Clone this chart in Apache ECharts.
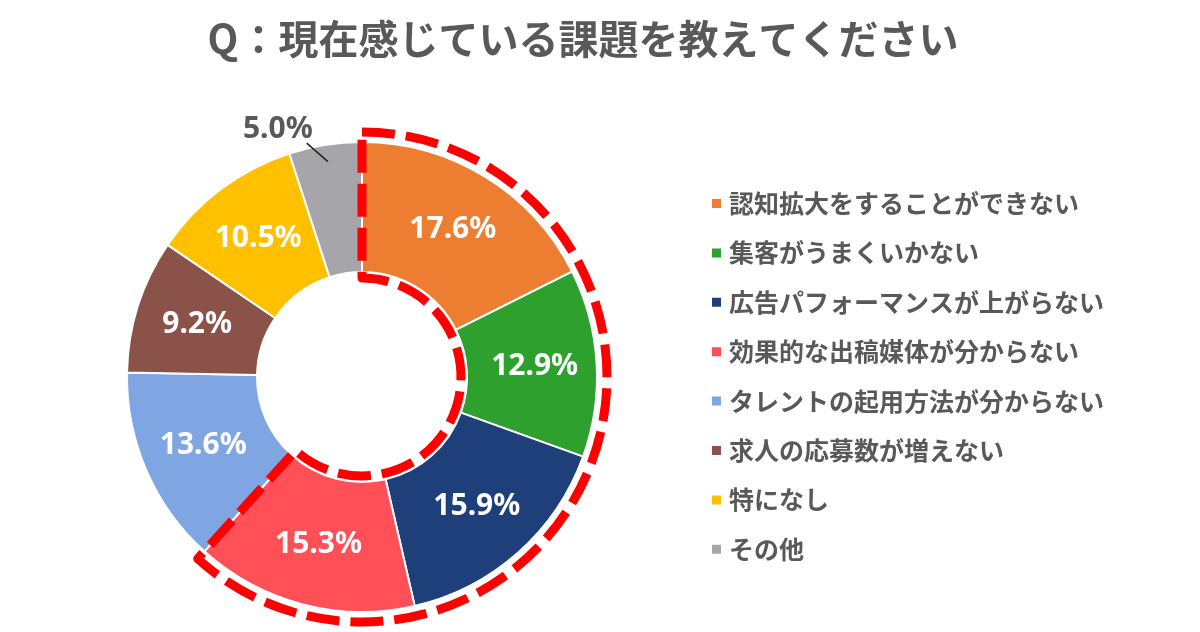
<!DOCTYPE html>
<html>
<head>
<meta charset="utf-8">
<script src="https://cdn.jsdelivr.net/npm/echarts@6/dist/echarts.min.js"></script>
<style>
html,body{margin:0;padding:0;background:#fff;}
#chart{width:1200px;height:632px;}
</style>
</head>
<body>
<div id="chart"></div>
<script>
const titleText = 'Q：現在感じている課題を教えてください';
const categories = [
  '認知拡大をすることができない',
  '集客がうまくいかない',
  '広告パフォーマンスが上がらない',
  '効果的な出稿媒体が分からない',
  'タレントの起用方法が分からない',
  '求人の応募数が増えない',
  '特になし',
  'その他'
];
const values = [17.6, 12.9, 15.9, 15.3, 13.6, 9.2, 10.5, 5.0];
const colors = ['#ED7D31', '#2EA02E', '#1F3F7A', '#FF4F57', '#7FA6E3', '#8B5249', '#FFC000', '#A6A5AA'];
const highlightCount = 4; // slices enclosed by the red dashed outline
const outsideLabelIndex = 7; // その他 label sits outside the ring

const pieCenter = [362, 377];
const pieRadius = [105, 235];
const jpFont = '"Noto Sans CJK JP", "Noto Sans", sans-serif';
const numFont = '"Noto Sans", "Open Sans", sans-serif';
const pctFormatter = p => p.value.toFixed(1) + '%';

// main ring: inside labels for all but the outside one
const pieData = categories.map((name, i) => {
  const item = { name: name, value: values[i] };
  if (i === outsideLabelIndex) item.label = { show: false };
  return item;
});

// overlay ring (transparent) carrying the outside label and its leader line above the slices
const overlayData = categories.map((name, i) => {
  const item = { name: name, value: values[i], label: { show: false }, labelLine: { show: false } };
  if (i === outsideLabelIndex) {
    item.label = { show: true };
    item.labelLine = { show: true };
  }
  return item;
});

const hiSum = values.slice(0, highlightCount).reduce((a, b) => a + b, 0);
const restSum = values.slice(highlightCount).reduce((a, b) => a + b, 0);

const chart = echarts.init(document.getElementById('chart'));
chart.setOption({
  backgroundColor: '#ffffff',
  color: colors,
  animation: false,
  title: {
    text: titleText,
    left: 578,
    textAlign: 'center',
    top: 14,
    textStyle: { fontFamily: jpFont, fontSize: 40, fontWeight: 'bold', color: '#595959' }
  },
  legend: {
    orient: 'vertical',
    left: 705,
    top: 186,
    icon: 'rect',
    itemWidth: 11,
    itemHeight: 11,
    itemGap: 24.4,
    selectedMode: false,
    data: categories,
    textStyle: { fontFamily: jpFont, fontSize: 25, fontWeight: 'bold', color: '#595959', padding: [0, 0, 0, 2] }
  },
  series: [
    {
      type: 'pie',
      center: pieCenter,
      radius: pieRadius,
      startAngle: 90,
      clockwise: true,
      avoidLabelOverlap: false,
      silent: true,
      itemStyle: { borderColor: '#ffffff', borderWidth: 2 },
      label: {
        show: true,
        position: 'inside',
        formatter: pctFormatter,
        fontFamily: numFont,
        fontSize: 30,
        fontWeight: 'bold',
        color: '#ffffff',
        padding: [10, 0, 0, 0]
      },
      labelLine: { show: false },
      data: pieData
    },
    {
      type: 'pie',
      center: pieCenter,
      radius: pieRadius,
      startAngle: 90,
      clockwise: true,
      avoidLabelOverlap: false,
      silent: true,
      z: 4,
      itemStyle: { color: 'rgba(0,0,0,0)', borderWidth: 0 },
      label: {
        position: 'outside',
        formatter: pctFormatter,
        fontFamily: numFont,
        fontSize: 30,
        fontWeight: 'bold',
        color: '#595959',
        distanceToLabelLine: 0,
        padding: 0
      },
      labelLine: {
        length: 16,
        length2: 10,
        lineStyle: { color: '#262626', width: 1.6 }
      },
      labelLayout: function (params) {
        if (params.dataIndex !== outsideLabelIndex || !params.labelLinePoints) return {};
        const p0 = params.labelLinePoints[0];
        const dx = p0[0] - pieCenter[0], dy = p0[1] - pieCenter[1];
        const r = Math.sqrt(dx * dx + dy * dy);
        const inner = 17;
        const start = [p0[0] - dx / r * inner, p0[1] - dy / r * inner];
        const lr = params.labelRect;
        const end = [lr.x + lr.width - 6, lr.y + lr.height - 1];
        return { labelLinePoints: [start, [(start[0] + end[0]) / 2, (start[1] + end[1]) / 2], end] };
      },
      data: overlayData
    },
    {
      type: 'pie',
      center: pieCenter,
      radius: [99, 245],
      startAngle: 90,
      clockwise: true,
      silent: true,
      z: 5,
      label: { show: false },
      labelLine: { show: false },
      data: [
        { value: hiSum, name: 'hi', itemStyle: { color: 'rgba(0,0,0,0)', borderColor: '#FF0000', borderWidth: 9, borderType: [33, 11] } },
        { value: restSum, name: 'rest', itemStyle: { color: 'rgba(0,0,0,0)', borderWidth: 0 } }
      ]
    }
  ]
});
</script>
</body>
</html>
